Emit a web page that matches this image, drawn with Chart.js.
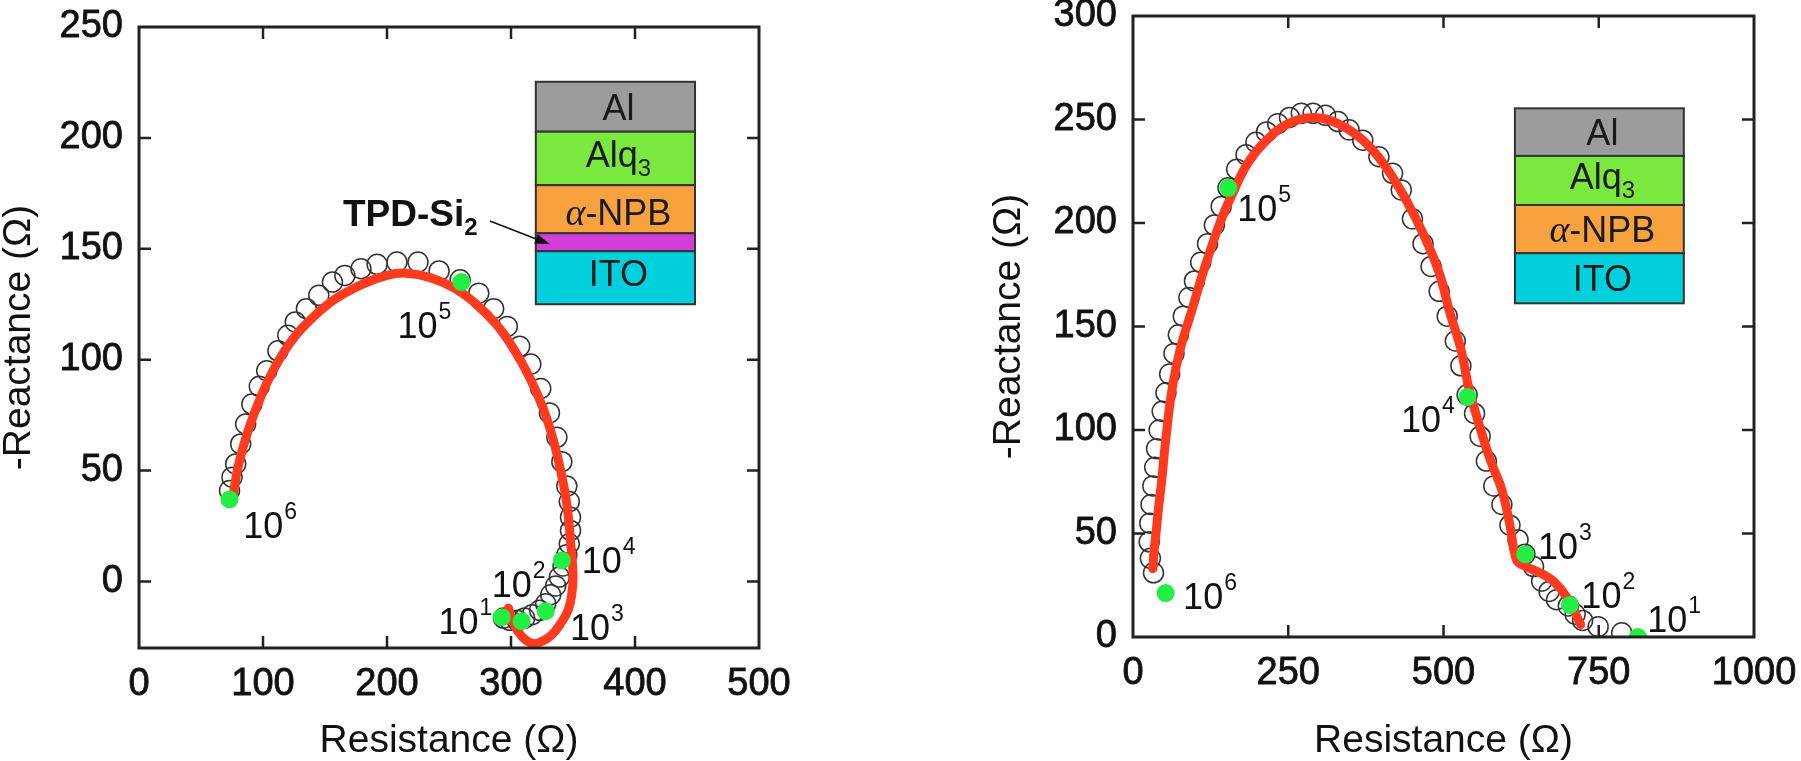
<!DOCTYPE html>
<html>
<head>
<meta charset="utf-8">
<script src="https://cdn.jsdelivr.net/npm/chart.js@4.4.0/dist/chart.umd.min.js"></script>
<style>
  html, body { margin: 0; padding: 0; background: #fff; }
  body { width: 1801px; height: 761px; position: relative; overflow: hidden; }
  #left { position: absolute; left: 0; top: 0; }
  #right { position: absolute; left: 900px; top: 0; }
</style>
</head>
<body>
<canvas id="left" width="900" height="761"></canvas>
<canvas id="right" width="901" height="761"></canvas>
<script>
// ---- left panel (with TPD-Si2 layer) ----
const leftXTicks = [0, 100, 200, 300, 400, 500];
const leftYTicks = [0, 50, 100, 150, 200, 250];
// measured (open circles)
const leftRes = [73, 75, 78, 82, 86, 91, 97, 103, 112, 120, 126, 135, 145, 156, 166, 179, 192, 208, 225, 242, 259, 274, 286, 297, 307, 316, 324, 331, 337, 341, 345, 347, 348, 348, 347, 345, 342, 339, 336, 332, 328, 323, 317, 311, 305, 299, 294];
const leftReac = [41, 47, 53, 62, 71, 80, 88, 95, 104, 111, 117, 123, 129, 135, 138, 141, 143, 144, 144, 140, 136, 130, 123, 115, 106, 98, 87, 76, 65, 54, 43, 36, 29, 23, 17, 12, 7, 2, -2, -6, -10, -13, -15, -16.5, -17.5, -17.5, -16.5];
// fitted curve (red)
const leftFitRes = [76, 80, 88, 98, 110, 125, 142, 160, 180, 200, 215, 235, 255, 272, 288, 302, 315, 326, 334, 340, 345, 348, 350, 349, 346, 340, 333, 325, 318, 311, 304, 300, 298];
const leftFitReac = [39, 52, 68, 83, 97, 110, 120, 128, 134, 138, 139, 137, 132, 125, 116, 105, 92, 78, 64, 50, 35, 18, 3, -6, -13, -19, -24, -27, -28, -26, -21, -16, -12];
// frequency decades (green dots), 10^6 ... 10^1 Hz
const decadeExp = ["6", "5", "4", "3", "2", "1"];
const leftDecRes = [73, 260, 341, 328, 308.6, 292.5];
const leftDecReac = [37, 135, 9.5, -13.4, -17.9, -16.1];

// ---- right panel (without TPD-Si2) ----
const rightXTicks = [0, 250, 500, 750, 1000];
const rightYTicks = [0, 50, 100, 150, 200, 250, 300];
const rightRes = [33, 28, 26, 27, 29, 32, 35, 38, 42, 47, 53, 59, 66, 73, 81, 90, 99, 109, 120, 131, 142, 153, 167, 182, 198, 215, 233, 252, 271, 290, 310, 330, 348, 370, 396, 418, 432, 450, 467, 480, 493, 506, 519, 528, 538, 550, 559, 569, 581, 594, 607, 620, 631, 645, 658, 670, 682, 701, 712, 724, 749, 787];
const rightReac = [31, 38, 46, 55, 64, 73, 82, 91, 100, 109, 118, 127, 137, 146, 155, 164, 172, 181, 190, 199, 208, 217, 226, 233, 239, 244, 248, 251, 253, 253, 252, 249, 245, 240, 232, 224, 216, 202, 190, 179, 167, 155, 143, 131, 117, 108, 97, 85, 73, 64, 54, 47, 40, 34, 27, 22, 18, 15, 11, 8, 5, 2];
const rightFitRes = [32, 34, 37, 41, 46, 53, 63, 76, 94, 116, 140, 160, 185, 215, 250, 290, 330, 370, 405, 440, 467, 493, 510, 528, 541, 559, 576, 594, 607, 618, 633, 655, 677, 699, 721];
const rightFitReac = [33, 42, 50, 62, 75, 96, 120, 139, 157, 179, 200, 214, 229, 240, 248, 251, 248, 240, 228, 211, 195, 176, 157, 139, 120, 101, 85, 71, 54, 37, 34, 31, 27, 19, 6];
const rightDecRes = [52.6, 153.5, 538.6, 631.6, 703.5, 813];
const rightDecReac = [21.2, 217, 116, 40, 15.5, 0];

const FONT = "'Liberation Sans', Arial, Helvetica, sans-serif";
const INK = "#111";
const GREEN = "#22ee44";
const RED = "#ff3a1f";

const zip = (xs, ys) => xs.map((v, i) => ({ x: v, y: ys[i] }));

function runFont(kind) {
  if (kind === "sub") return "24px " + FONT;
  if (kind === "it") return "italic 38px 'Liberation Serif', 'DejaVu Serif', serif";
  if (kind === "b") return "bold 37px " + FONT;
  if (kind === "bsub") return "bold 24px " + FONT;
  return "36px " + FONT;
}

// draws a list of [text, kind] pieces, starting at x (or centred on it)
function drawRuns(ctx, runs, x, y, center) {
  let w = 0;
  runs.forEach(r => { ctx.font = runFont(r[1]); w += ctx.measureText(r[0]).width; });
  let cx = center ? x - w / 2 : x;
  runs.forEach(r => {
    ctx.font = runFont(r[1]);
    const dy = (r[1] === "sub" || r[1] === "bsub") ? 9 : 0;
    ctx.fillText(r[0], cx, y + dy);
    cx += ctx.measureText(r[0]).width;
  });
}

const decor = {
  id: "decor",
  afterDraw(chart, args, opts) {
    const { ctx, chartArea: a, scales: { x, y } } = chart;
    ctx.save();
    ctx.textBaseline = "alphabetic";
    ctx.textAlign = "left";

    // inset: device layer stack
    const ins = opts.inset;
    const x0 = x.getPixelForValue(ins.from), x1 = x.getPixelForValue(ins.to);
    ins.layers.forEach((L, i) => {
      const yt = y.getPixelForValue(ins.edges[i]);
      const yb = y.getPixelForValue(ins.edges[i + 1]);
      ctx.fillStyle = L.color;
      ctx.fillRect(x0, yt, x1 - x0, yb - yt);
      ctx.strokeStyle = "#333";
      ctx.lineWidth = 2;
      ctx.strokeRect(x0, yt, x1 - x0, yb - yt);
      if (L.runs) {
        ctx.fillStyle = "#1a1a1a";
        drawRuns(ctx, L.runs, (x0 + x1) / 2 + 3, (yt + yb) / 2 + 13 + (L.dy || 0), true);
      }
    });

    // TPD-Si2 note with arrow
    if (opts.note) {
      const n = opts.note;
      ctx.fillStyle = INK;
      drawRuns(ctx, n.runs, x.getPixelForValue(n.x), y.getPixelForValue(n.y), false);
      const ax = x.getPixelForValue(n.arrow[0]), ay = y.getPixelForValue(n.arrow[1]);
      const bx = x.getPixelForValue(n.arrow[2]), by = y.getPixelForValue(n.arrow[3]);
      const ang = Math.atan2(by - ay, bx - ax);
      ctx.strokeStyle = INK;
      ctx.lineWidth = 1.5;
      ctx.beginPath();
      ctx.moveTo(ax, ay);
      ctx.lineTo(bx - 10 * Math.cos(ang), by - 10 * Math.sin(ang));
      ctx.stroke();
      ctx.beginPath();
      ctx.moveTo(bx, by);
      ctx.lineTo(bx - 15 * Math.cos(ang) + 5 * Math.sin(ang), by - 15 * Math.sin(ang) - 5 * Math.cos(ang));
      ctx.lineTo(bx - 15 * Math.cos(ang) - 5 * Math.sin(ang), by - 15 * Math.sin(ang) + 5 * Math.cos(ang));
      ctx.closePath();
      ctx.fill();
    }

    // decade labels 10^n
    ctx.fillStyle = INK;
    opts.labels.forEach((l, i) => {
      const px = x.getPixelForValue(l[0]), py = y.getPixelForValue(l[1]);
      ctx.font = "36px " + FONT;
      ctx.fillText("10", px, py);
      const w = ctx.measureText("10").width;
      ctx.font = "23px " + FONT;
      ctx.fillText(decadeExp[i], px + w + 1, py - 19);
    });

    // frame and inward ticks on all four sides
    ctx.strokeStyle = "#222";
    ctx.lineWidth = 2.5;
    ctx.beginPath();
    opts.xTicks.forEach(v => {
      const px = x.getPixelForValue(v);
      if (px < a.left + 3 || px > a.right - 3) return;
      ctx.moveTo(px, a.bottom); ctx.lineTo(px, a.bottom - 12);
      ctx.moveTo(px, a.top); ctx.lineTo(px, a.top + 12);
    });
    opts.yTicks.forEach(v => {
      const py = y.getPixelForValue(v);
      if (py < a.top + 3 || py > a.bottom - 3) return;
      ctx.moveTo(a.left, py); ctx.lineTo(a.left + 12, py);
      ctx.moveTo(a.right, py); ctx.lineTo(a.right - 12, py);
    });
    ctx.stroke();
    ctx.lineWidth = 3;
    ctx.strokeRect(a.left, a.top, a.right - a.left, a.bottom - a.top);
    ctx.restore();
  }
};

function panel(id, p) {
  const tickFont = { family: FONT, size: 38, lineHeight: 1.2 };
  const titleFont = { family: FONT, size: 39, lineHeight: 1 };
  const tickText = {
    font: tickFont,
    color: INK,
    textStrokeColor: INK,
    textStrokeWidth: 0.8,
    autoSkip: false,
    callback: v => String(v),
  };
  return new Chart(document.getElementById(id), {
    type: "scatter",
    data: {
      datasets: [
        {
          label: "decades",
          data: zip(p.decRes, p.decReac),
          pointRadius: 9,
          pointBackgroundColor: GREEN,
          pointBorderWidth: 0,
          order: 0,
        },
        {
          label: "fit",
          data: zip(p.fitRes, p.fitReac),
          showLine: true,
          borderColor: RED,
          borderWidth: 9,
          borderCapStyle: "round",
          borderJoinStyle: "round",
          tension: 0.4,
          pointRadius: 0,
          order: 1,
        },
        {
          label: "measured",
          data: zip(p.res, p.reac),
          pointRadius: 10,
          pointBorderColor: "#333",
          pointBorderWidth: 1.5,
          pointBackgroundColor: "rgba(255,255,255,0)",
          order: 2,
        },
      ],
    },
    options: {
      responsive: false,
      animation: false,
      events: [],
      layout: { padding: p.padding },
      plugins: {
        legend: { display: false },
        tooltip: { enabled: false },
        decor: { xTicks: p.xTicks, yTicks: p.yTicks, inset: p.inset, note: p.note, labels: p.labels },
      },
      scales: {
        x: {
          type: "linear",
          min: p.xTicks[0],
          max: p.xTicks[p.xTicks.length - 1],
          afterBuildTicks: s => { s.ticks = p.xTicks.map(v => ({ value: v })); },
          afterFit: s => { s.height = p.xHeight; s.paddingLeft = 0; s.paddingRight = 0; },
          grid: { display: false, drawTicks: false },
          border: { display: false },
          ticks: Object.assign({ padding: 14, maxRotation: 0 }, tickText),
          title: { display: true, text: "Resistance (Ω)", font: titleFont, color: INK, padding: 0 },
        },
        y: {
          type: "linear",
          min: p.yMin,
          max: p.yTicks[p.yTicks.length - 1],
          afterBuildTicks: s => { s.ticks = p.yTicks.map(v => ({ value: v })); },
          afterFit: s => { s.width = p.yWidth; s.paddingTop = 0; s.paddingBottom = 0; },
          grid: { display: false, drawTicks: false },
          border: { display: false },
          ticks: Object.assign({ padding: 16 }, tickText),
          title: { display: true, text: "-Reactance (Ω)", font: titleFont, color: INK, padding: 0 },
        },
      },
    },
    plugins: [decor],
  });
}

panel("left", {
  res: leftRes, reac: leftReac,
  fitRes: leftFitRes, fitReac: leftFitReac,
  decRes: leftDecRes, decReac: leftDecReac,
  xTicks: leftXTicks, yTicks: leftYTicks, yMin: -30,
  padding: { left: 0, top: 27, right: 141, bottom: 0 },
  yWidth: 139, xHeight: 113,
  labels: [[84, 19.7], [208.5, 109.6], [357, 4], [347.5, -26.5], [284.4, -7], [241.5, -23.8]],
  inset: {
    from: 320, to: 448.4,
    edges: [225.3, 202.8, 178.7, 157, 148.9, 125],
    layers: [
      { color: "#9c9c9c", runs: [["Al", "n"]] },
      { color: "#7ae83e", runs: [["Alq", "n"], ["3", "sub"]], dy: -4 },
      { color: "#f7a23e", runs: [["α", "it"], ["-NPB", "n"]], dy: 3 },
      { color: "#d43ed8" },
      { color: "#00cfdc", runs: [["ITO", "n"]], dy: -5 },
    ],
  },
  note: { x: 164.5, y: 160.3, runs: [["TPD-Si", "b"], ["2", "bsub"]], arrow: [283, 162.5, 331.5, 152] },
});

panel("right", {
  res: rightRes, reac: rightReac,
  fitRes: rightFitRes, fitReac: rightFitReac,
  decRes: rightDecRes, decReac: rightDecReac,
  xTicks: rightXTicks, yTicks: rightYTicks, yMin: 0,
  padding: { left: 90, top: 16, right: 47, bottom: 0 },
  yWidth: 143, xHeight: 124,
  labels: [[80.7, 13.4], [168, 200.8], [431.6, 99], [652, 37.5], [722, 14.2], [828, 2.3]],
  inset: {
    from: 615, to: 887,
    edges: [255.4, 232.4, 208.7, 185.4, 161.2],
    layers: [
      { color: "#9c9c9c", runs: [["Al", "n"]] },
      { color: "#7ae83e", runs: [["Alq", "n"], ["3", "sub"]], dy: -4 },
      { color: "#f7a23e", runs: [["α", "it"], ["-NPB", "n"]] },
      { color: "#00cfdc", runs: [["ITO", "n"]] },
    ],
  },
});
</script>
</body>
</html>
